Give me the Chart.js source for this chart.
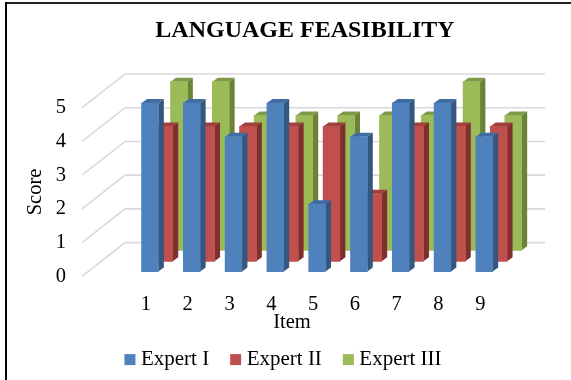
<!DOCTYPE html>
<html>
<head>
<meta charset="utf-8">
<style>
  html, body { margin: 0; padding: 0; background: #fff; }
  #wrap { position: relative; width: 571px; height: 380px; overflow: hidden; }
  #wrap::before { content: ""; position: absolute; left: 5px; top: 2px; right: 0; height: 2px; background: #222; }
  #wrap::after { content: ""; position: absolute; left: 5px; top: 2px; bottom: 0; width: 2px; background: #000; }
  canvas { display: block; }
</style>
<script src="https://cdn.jsdelivr.net/npm/chart.js@4/dist/chart.umd.min.js"></script>
</head>
<body>
<div id="wrap"><canvas id="chart" width="571" height="380"></canvas></div>
<script>
const items = [1, 2, 3, 4, 5, 6, 7, 8, 9];
const expertI = [5, 5, 4, 5, 2, 4, 5, 5, 4];
const expertII = [4, 4, 4, 4, 4, 2, 4, 4, 4];
const expertIII = [5, 5, 4, 4, 4, 4, 4, 5, 4];
const scoreTicks = [0, 1, 2, 3, 4, 5];

const serif = '"Liberation Serif", "Times New Roman", serif';
const textSize = 20.5;

// Oblique projection: how far each rank and each bar recede into the scene.
const wallDepth = { x: 43, y: -33.7 };
const barDepth = { x: 5.5, y: -4 };
const seriesOffsets = [
  { x: 4, y: -4.7 },
  { x: 18.4, y: -15 },
  { x: 33, y: -26 }
];
const faceShades = [
  { top: '#3f6da3', side: '#34567f' },
  { top: '#a13f3c', side: '#7f2f2e' },
  { top: '#7e9a48', side: '#6b8239' }
];

// Back wall and side wall rules, positioned from the value axis.
const wallPlugin = {
  id: 'walls',
  beforeDatasetsDraw(chart) {
    const { ctx, chartArea, scales } = chart;
    ctx.save();
    ctx.strokeStyle = '#d9d9d9';
    ctx.lineWidth = 1.6;
    scoreTicks.forEach(v => {
      const y = scales.y.getPixelForValue(v);
      const bx = chartArea.left + wallDepth.x;
      const by = y + wallDepth.y;
      ctx.beginPath();
      ctx.moveTo(chartArea.left, y);
      ctx.lineTo(bx, by);
      ctx.lineTo(chartArea.right + wallDepth.x, by);
      ctx.stroke();
    });
    ctx.restore();
  }
};

// Shifts each series to its rank and adds the top and side faces behind the front face.
const extrudePlugin = {
  id: 'extrude',
  beforeDatasetDraw(chart, args) {
    const { ctx } = chart;
    const off = seriesOffsets[args.index];
    const shade = faceShades[args.index];
    ctx.save();
    ctx.translate(off.x, off.y);
    args.meta.data.forEach(bar => {
      const { x, y, base, width } = bar.getProps(['x', 'y', 'base', 'width'], true);
      const l = x - width / 2;
      const r = x + width / 2;
      ctx.fillStyle = shade.top;
      ctx.beginPath();
      ctx.moveTo(l, y);
      ctx.lineTo(l + barDepth.x, y + barDepth.y);
      ctx.lineTo(r + barDepth.x, y + barDepth.y);
      ctx.lineTo(r, y);
      ctx.closePath();
      ctx.fill();
      ctx.fillStyle = shade.side;
      ctx.beginPath();
      ctx.moveTo(r, y);
      ctx.lineTo(r + barDepth.x, y + barDepth.y);
      ctx.lineTo(r + barDepth.x, base + barDepth.y);
      ctx.lineTo(r, base);
      ctx.closePath();
      ctx.fill();
    });
  },
  afterDatasetDraw(chart) {
    chart.ctx.restore();
  }
};

// Title and legend sit off the plot's centre line, and the legend a little higher.
const placementPlugin = {
  id: 'placement',
  afterLayout(chart) {
    const centre = (box, cx) => {
      const delta = cx - (box.left + box.right) / 2;
      box.left += delta;
      box.right += delta;
    };
    centre(chart.titleBlock, 305);
    centre(chart.legend, 285.5);
    chart.legend.top -= 11.7;
    chart.legend.bottom -= 11.7;
  }
};

new Chart(document.getElementById('chart'), {
  type: 'bar',
  data: {
    labels: items,
    datasets: [
      { label: 'Expert I', data: expertI, backgroundColor: '#4f81bd' },
      { label: 'Expert II', data: expertII, backgroundColor: '#c0504d' },
      { label: 'Expert III', data: expertIII, backgroundColor: '#9bbb59' }
    ].map(d => ({ ...d, grouped: false, barThickness: 16.8, borderWidth: 0, clip: false }))
  },
  options: {
    responsive: false,
    animation: false,
    events: [],
    layout: { padding: { left: 23, right: 69, top: 16, bottom: -11.8 } },
    plugins: {
      tooltip: { enabled: false },
      title: {
        display: true,
        text: 'LANGUAGE FEASIBILITY',
        color: '#000',
        font: { family: serif, size: 24, weight: 'bold' },
        padding: { top: 0, bottom: 62.9 }
      },
      legend: {
        position: 'bottom',
        labels: {
          color: '#000',
          font: { family: serif, size: 21 },
          boxWidth: 1,
          boxHeight: 1,
          padding: 26,
          // A thick outline around a thin box keeps the swatch tight against its text.
          generateLabels(chart) {
            return Chart.defaults.plugins.legend.labels.generateLabels(chart)
              .map(item => ({ ...item, strokeStyle: item.fillStyle, lineWidth: 10 }));
          }
        }
      }
    },
    scales: {
      x: {
        type: 'linear',
        offset: false,
        min: -0.53,
        max: 9.52,
        afterBuildTicks(scale) {
          scale.ticks = items.map(value => ({ value }));
        },
        afterFit(scale) { scale.height = 58.5; },
        grid: { display: false, drawTicks: false },
        border: { display: false },
        ticks: {
          color: '#000',
          font: { family: serif, size: textSize },
          padding: 16.1,
          maxRotation: 0,
          autoSkip: false
        },
        title: {
          display: true,
          text: 'Item',
          color: '#000',
          font: { family: serif, size: textSize },
          padding: 0
        }
      },
      y: {
        min: 0,
        max: 5,
        afterFit(scale) { scale.width = 59; },
        grid: { display: false, drawTicks: false },
        border: { display: false },
        ticks: {
          color: '#000',
          font: { family: serif, size: textSize },
          stepSize: 1,
          padding: 16
        },
        title: {
          display: true,
          text: 'Score',
          color: '#000',
          font: { family: serif, size: textSize },
          padding: 0
        }
      }
    }
  },
  plugins: [wallPlugin, extrudePlugin, placementPlugin]
});
</script>
</body>
</html>
